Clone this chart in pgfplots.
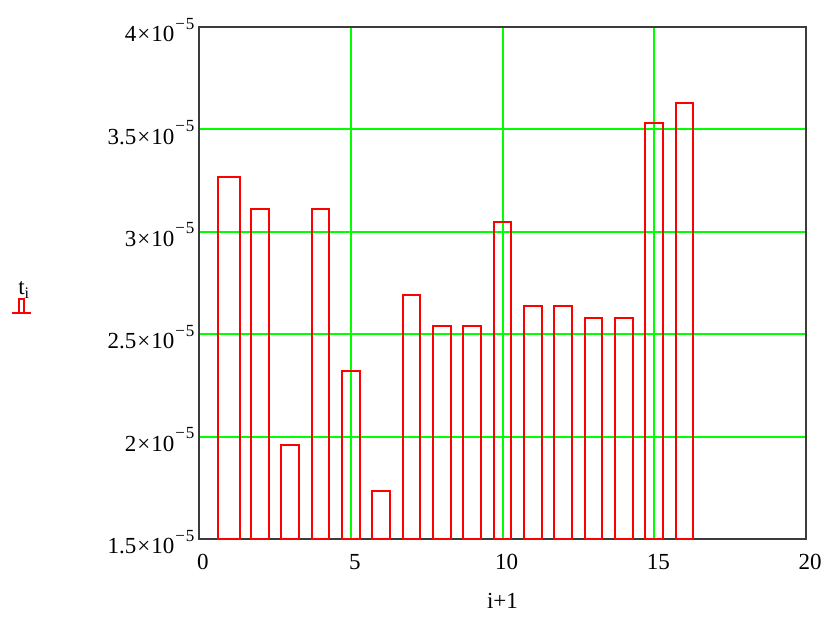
\documentclass[border=0pt]{standalone}
\usepackage{pgfplots}
\pgfplotsset{compat=1.18}
\usepackage{fontspec}
\setmainfont{Liberation Serif}

\definecolor{gridgreen}{RGB}{0,255,0}
\definecolor{barred}{RGB}{255,0,0}
\definecolor{frame}{RGB}{60,60,60}

% t_i against i+1; the first bar is drawn a little wider than the rest
\pgfplotstableread{
x y
1 3.27e-5
}\firstbar
\pgfplotstableread{
x y
2  3.11e-5
3  1.96e-5
4  3.11e-5
5  2.32e-5
6  1.735e-5
7  2.69e-5
8  2.54e-5
9  2.54e-5
10 3.05e-5
11 2.64e-5
12 2.64e-5
13 2.58e-5
14 2.58e-5
15 3.53e-5
16 3.63e-5
}\otherbars

\newcommand{\labfont}{\fontsize{23bp}{27bp}\selectfont}
\newcommand{\sci}[1]{#1\kern1pt×\kern1pt10\raisebox{0.55em}{\fontsize{17bp}{20bp}\selectfont\kern1pt−\kern1pt5}}

\begin{document}
\begin{tikzpicture}
\useasboundingbox (-199bp,-79bp) rectangle (631bp,539bp);
\begin{axis}[
  scale only axis,
  width=607bp, height=512bp,
  xmin=0, xmax=20,
  ymin=1.5e-5, ymax=4e-5,
  xtick={0,5,10,15,20},
  xticklabels={0,5,10,15,20},
  ytick={1.5e-5,2e-5,2.5e-5,3e-5,3.5e-5,4e-5},
  yticklabels={\sci{1.5},\sci{2},\sci{2.5},\sci{3},\sci{3.5},\sci{4}},
  scaled y ticks=false,
  major tick length=0pt,
  tick label style={font=\labfont, text=black},
  yticklabel style={xshift=-1bp, yshift=-3bp},
  xticklabel style={yshift=-12bp, xshift=4bp},
  grid=major,
  major grid style={gridgreen, line width=2bp},
  axis line style={frame, line width=2bp},
  xlabel={i+1},
  xlabel style={font=\labfont, at={(axis description cs:0.5,0)}, anchor=center, yshift=-62bp},
  clip=true,
]
\addplot[ybar, bar shift=0pt, bar width=0.72, draw=barred, fill=none, line width=2bp]
  table[x=x, y=y] {\firstbar};
\addplot[ybar, bar shift=0pt, bar width=0.58, draw=barred, fill=none, line width=2bp]
  table[x=x, y=y] {\otherbars};
\end{axis}
% axis label with its trace glyph
\node[font=\labfont, anchor=center] at (-175bp,249bp) {t\textsubscript{i}};
\draw[barred, line width=2bp] (-187bp,226bp) -- (-168bp,226bp);
\draw[barred, line width=2bp] (-180bp,226bp) -- (-180bp,240bp) -- (-175bp,240bp) -- (-175bp,226bp);
\end{tikzpicture}
\end{document}
